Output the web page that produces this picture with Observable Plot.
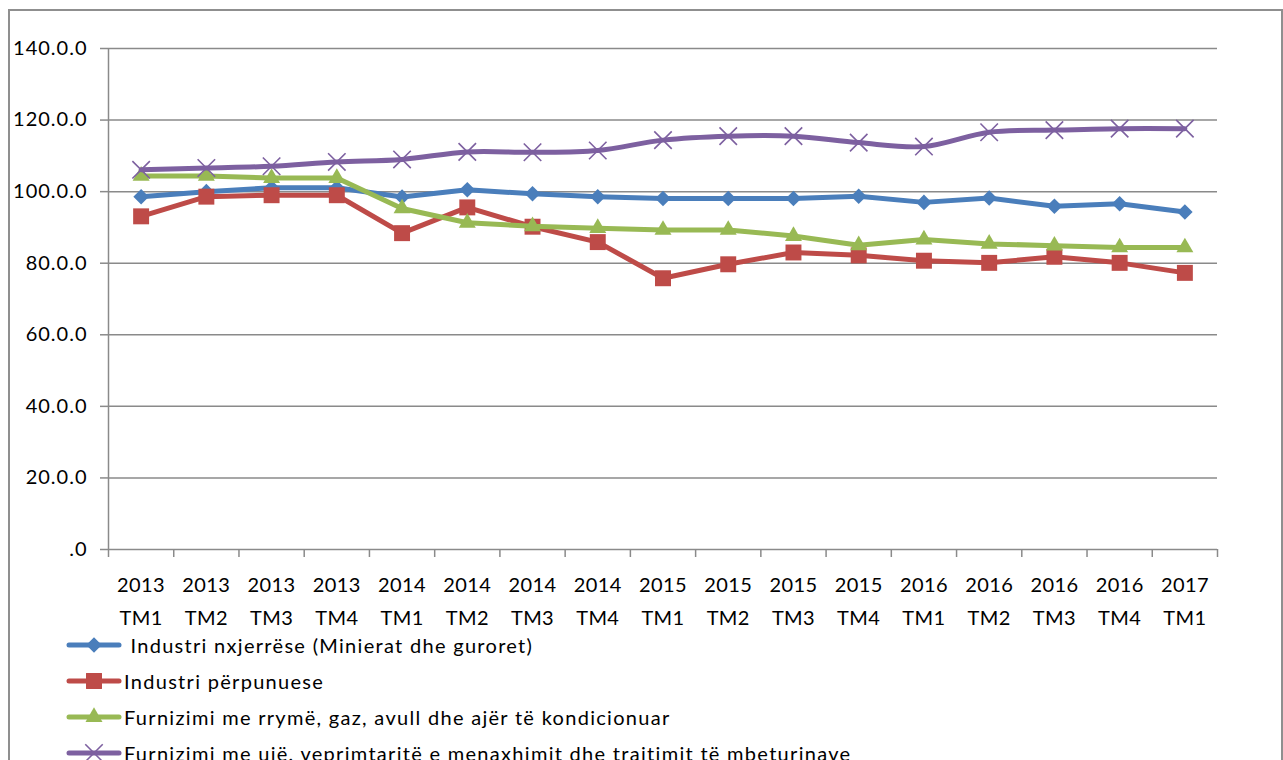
<!DOCTYPE html>
<html>
<head>
<meta charset="utf-8">
<script src="https://cdn.jsdelivr.net/npm/d3@7"></script>
<script src="https://cdn.jsdelivr.net/npm/@observablehq/plot@0.6"></script>
<style>
  html, body { margin: 0; padding: 0; background: #fff; width: 1283px; height: 760px; overflow: hidden; }
  #frame { position: absolute; left: 8px; top: 9px; width: 1271px; height: 800px; border: 2px solid #8f8f8f; pointer-events: none; }
  #chart { position: absolute; left: 0; top: 0; }
  #chart svg text { font-variant-numeric: tabular-nums; }
  #chart .yax text { letter-spacing: 1px; }
  #chart .xax text { letter-spacing: 0.4px; }
  #legend { position: absolute; left: 0; top: 627px; font-family: Lato, sans-serif; font-size: 20px; letter-spacing: 1.3px; color: #000; }
  .row { display: flex; align-items: center; height: 36px; }
  .row svg { flex: none; }
  .row span { white-space: pre; }
</style>
</head>
<body>
<div id="chart"></div>
<div id="legend"></div>
<div id="frame"></div>
<script>
const years = ["2013","2013","2013","2013","2014","2014","2014","2014","2015","2015","2015","2015","2016","2016","2016","2016","2017"];
const quarters = ["TM1","TM2","TM3","TM4","TM1","TM2","TM3","TM4","TM1","TM2","TM3","TM4","TM1","TM2","TM3","TM4","TM1"];

const seriesNames = [
  " Industri nxjerrëse (Minierat dhe guroret)",
  "Industri përpunuese",
  "Furnizimi me rrymë, gaz, avull dhe ajër të kondicionuar",
  "Furnizimi me ujë, veprimtaritë e menaxhimit dhe trajtimit të mbeturinave"
];
const seriesColors = ["#4a7ebb", "#be4b48", "#98b954", "#7d60a0"];

const mining =        [98.6, 100.0, 101.1, 101.1, 98.5, 100.5, 99.4, 98.6, 98.1, 98.1, 98.1, 98.7, 97.0, 98.2, 95.9, 96.6, 94.3];
const manufacturing = [93.1, 98.6, 99.0, 99.0, 88.4, 95.6, 90.2, 85.9, 75.8, 79.7, 83.0, 82.2, 80.7, 80.1, 81.8, 80.1, 77.3];
const electricity =   [104.4, 104.4, 103.8, 103.8, 95.3, 91.3, 90.3, 89.8, 89.3, 89.3, 87.6, 85.0, 86.6, 85.4, 84.9, 84.4, 84.4];
const water =         [106.1, 106.6, 107.1, 108.3, 109.0, 111.1, 111.0, 111.5, 114.4, 115.5, 115.5, 113.7, 112.6, 116.6, 117.2, 117.6, 117.6];

const yTicks = [0, 20, 40, 60, 80, 100, 120, 140];
const yTickLabels = [".0", "20.0.0", "40.0.0", "60.0.0", "80.0.0", "100.0.0", "120.0.0", "140.0.0"];

const allSeries = [mining, manufacturing, electricity, water];
const symbols = ["diamond2", "square", "triangle", "times"];
const radii = [7, 9, 6.3, 8];

const idx = years.map((_, i) => i + 1);
const rows = allSeries.map(vals => vals.map((v, i) => ({x: i + 1, y: v})));
const boundaries = d3.range(0.5, years.length + 1, 1);

const gridColor = "#8a8a8a";
const marks = [
  Plot.gridY(yTicks, {stroke: gridColor, strokeOpacity: 1, strokeWidth: 1.5}),
  Plot.ruleX([0.5], {stroke: gridColor, strokeWidth: 1.5}),
  Plot.axisY({ticks: yTicks, label: null, tickFormat: d => yTickLabels[yTicks.indexOf(d)], tickSize: 8, tickPadding: 13, stroke: gridColor, strokeWidth: 1.5, fill: "#000", className: "yax"}),
  Plot.axisX({ticks: boundaries, label: null, tickFormat: () => "", tickSize: 8, stroke: gridColor, strokeWidth: 1.5}),
  Plot.axisX({ticks: idx, label: null, tickFormat: d => years[d - 1] + "\n" + quarters[d - 1], tickSize: 0, tickPadding: 19, lineHeight: 1.65, fill: "#000", className: "xax"})
];

rows.forEach((data, s) => {
  marks.push(Plot.line(data, {x: "x", y: "y", stroke: seriesColors[s], strokeWidth: 5, curve: s === 3 ? "catmull-rom" : "linear"}));
  if (s === 3) {
    marks.push(Plot.dot(data, {x: "x", y: "y", symbol: symbols[s], r: radii[s], stroke: seriesColors[s], strokeWidth: 1.6, fill: "none"}));
  } else {
    marks.push(Plot.dot(data, {x: "x", y: "y", symbol: symbols[s], r: radii[s], fill: seriesColors[s], stroke: "none"}));
  }
});

const chart = Plot.plot({
  width: 1283,
  height: 630,
  marginLeft: 108,
  marginRight: 66,
  marginTop: 48,
  marginBottom: 81,
  style: {fontFamily: "Lato, sans-serif", fontSize: "20px", background: "transparent", color: "#000", overflow: "visible"},
  x: {type: "linear", domain: [0.5, years.length + 0.5], axis: null},
  y: {domain: [0, 140], axis: null},
  marks
});
document.getElementById("chart").appendChild(chart);

// Legend
const legend = d3.select("#legend");
seriesNames.forEach((name, s) => {
  const row = legend.append("div").attr("class", "row");
  const svg = row.append("svg").attr("width", 124).attr("height", 36);
  svg.append("line").attr("x1", 69).attr("x2", 119).attr("y1", 18).attr("y2", 18)
    .attr("stroke", seriesColors[s]).attr("stroke-width", 5).attr("stroke-linecap", "round");
  const sym = {diamond2: d3.symbolDiamond2, square: d3.symbolSquare, triangle: d3.symbolTriangle, times: d3.symbolTimes}[symbols[s]];
  const path = svg.append("path").attr("transform", "translate(94,18)")
    .attr("d", d3.symbol(sym, Math.PI * radii[s] * radii[s])());
  if (s === 3) path.attr("fill", "none").attr("stroke", seriesColors[s]).attr("stroke-width", 1.6);
  else path.attr("fill", seriesColors[s]);
  row.append("span").text(name);
});
</script>
</body>
</html>
